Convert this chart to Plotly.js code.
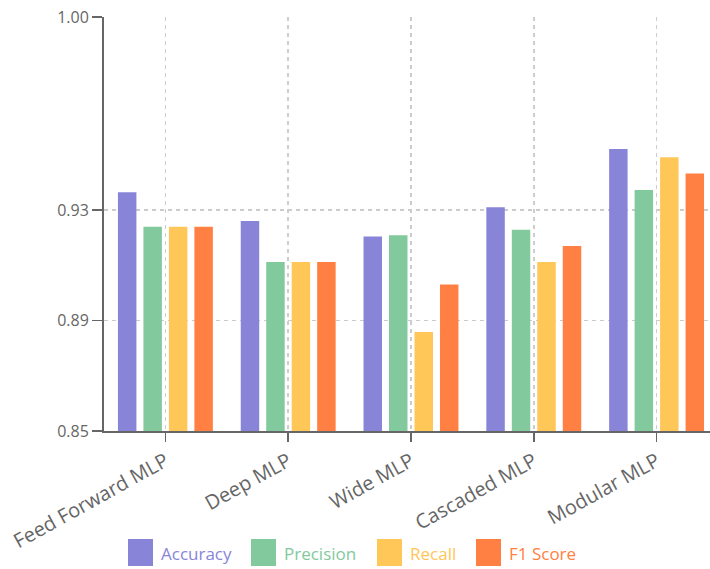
<!DOCTYPE html>
<html>
<head>
<meta charset="utf-8">
<script src="https://cdn.plot.ly/plotly-3.0.1.min.js"></script>
<style>html,body{margin:0;padding:0;background:#fff;overflow:hidden}#chart{width:710px;height:569px}</style>
</head>
<body>
<div id="chart"></div>
<script>
const categories = ["Feed Forward MLP", "Deep MLP", "Wide MLP", "Cascaded MLP", "Modular MLP"];
const accuracy  = [0.9365, 0.9261, 0.9205, 0.9311, 0.9522];
const precision = [0.9240, 0.9112, 0.9209, 0.9229, 0.9373];
const recall    = [0.9240, 0.9112, 0.8859, 0.9112, 0.9492];
const f1Score   = [0.9240, 0.9112, 0.9031, 0.9170, 0.9433];
const seriesNames = ["Accuracy", "Precision", "Recall", "F1 Score"];
const yTicks = [0.85, 0.89, 0.93, 1.00];
const yTickLabels = ["0.85", "0.89", "0.93", "1.00"];

const colors = ["#8884d8", "#82ca9d", "#ffc658", "#ff8042"];
const values = [accuracy, precision, recall, f1Score];

const W = 710, H = 569;
const M = {l: 104, r: 0, t: 17, b: 138};
const plotW = W - M.l - M.r, plotH = H - M.t - M.b;
const px = x => (x - M.l) / plotW;           // pixel -> paper x
const py = y => (H - M.b - y) / plotH;       // pixel -> paper y

const traces = values.map((v, i) => ({
  type: "bar",
  x: categories,
  y: v,
  name: seriesNames[i],
  marker: {color: colors[i], line: {width: 0}},
  hoverinfo: "skip"
}));

// custom legend (large square swatches + coloured labels, as in the reference)
const legendIconX = [128, 251, 377, 476];
const shapes = [], annotations = [];
seriesNames.forEach((n, i) => {
  shapes.push({
    type: "rect", xref: "paper", yref: "paper",
    x0: px(legendIconX[i]), x1: px(legendIconX[i] + 25),
    y0: py(566), y1: py(539),
    fillcolor: colors[i], line: {width: 0}
  });
  annotations.push({
    xref: "paper", yref: "paper", showarrow: false,
    x: px(legendIconX[i] + 31), xanchor: "left",
    y: py(553), yanchor: "middle",
    text: n, font: {size: 17, color: colors[i]}
  });
});

const layout = {
  width: W, height: H,
  margin: M,
  paper_bgcolor: "#fff", plot_bgcolor: "#fff",
  font: {family: "Open Sans, sans-serif", color: "#666", size: 15},
  barmode: "group",
  bargap: 0.17,
  bargroupgap: 0.275,
  showlegend: false,
  shapes: shapes,
  annotations: annotations,
  xaxis: {
    type: "category",
    range: [-0.5, 4.435],
    tickangle: -29,
    showgrid: true, gridcolor: "#cccccc", griddash: "4px,4px", gridwidth: 1.5,
    showline: true, linecolor: "#666", linewidth: 2,
    ticks: "outside", ticklen: 9, tickcolor: "#666", tickwidth: 1.5,
    tickfont: {size: 20, color: "#666"},
    zeroline: false, fixedrange: true
  },
  yaxis: {
    range: [0.85, 1.0],
    tickmode: "array", tickvals: yTicks, ticktext: yTickLabels,
    showgrid: true, gridcolor: "#cccccc", griddash: "4px,4px", gridwidth: 1.5,
    showline: true, linecolor: "#666", linewidth: 2,
    ticks: "outside", ticklen: 10, tickcolor: "#666", tickwidth: 1.5,
    tickfont: {size: 16, color: "#666"},
    zeroline: false, fixedrange: true
  }
};

Plotly.newPlot("chart", traces, layout, {displayModeBar: false, staticPlot: true});
</script>
</body>
</html>
